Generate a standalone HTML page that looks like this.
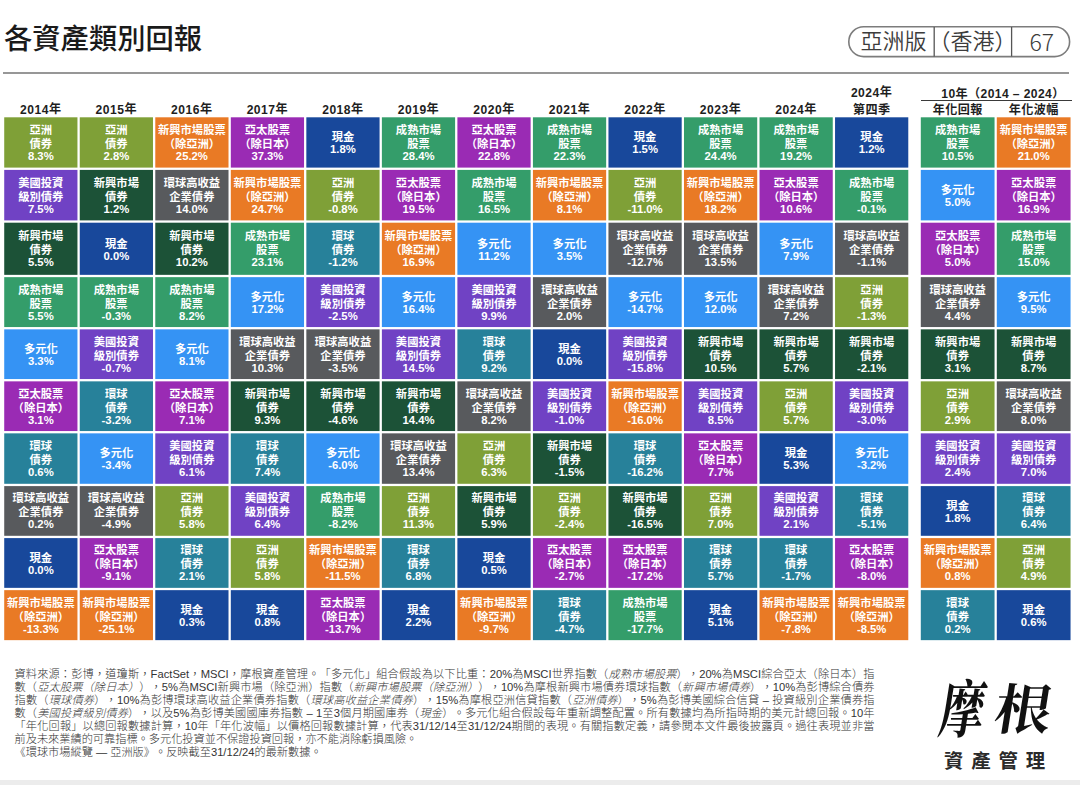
<!DOCTYPE html>
<html lang="zh-Hant">
<head>
<meta charset="utf-8">
<title>各資產類別回報</title>
<style>
html,body{margin:0;padding:0;background:#fff;}
body{text-spacing-trim:space-all;width:1080px;height:785px;position:relative;overflow:hidden;font-family:"Liberation Sans","Noto Sans CJK TC","Noto Sans CJK SC",sans-serif;color:#222;}
.title{position:absolute;left:4px;top:19px;font-size:28.3px;line-height:40px;font-weight:500;color:#1a1a1a;white-space:nowrap;letter-spacing:0px;}
.rule{position:absolute;left:3px;top:72px;width:1065.5px;height:2px;background:#979797;}
.badge{position:absolute;left:848.4px;top:26px;width:222.4px;height:31.4px;}
.badge svg{position:absolute;left:0;top:0;}
.badge span{position:absolute;top:1px;line-height:29px;font-size:22px;font-weight:350;color:#3c3c3c;white-space:nowrap;}
.h{position:absolute;text-align:center;font-weight:700;font-size:12.1px;line-height:14px;color:#1e1e1e;white-space:nowrap;letter-spacing:0.4px;}
.h.y{letter-spacing:0.5px;}
.h.y span{position:relative;top:-1px;}
.badge span.n{font-family:"Noto Sans CJK TC","Liberation Sans",sans-serif;font-weight:300;font-size:23px;}
.bg{position:absolute;left:0;top:0;}
.c{position:absolute;color:#fff;font-weight:700;font-size:11.3px;line-height:13px;text-align:center;white-space:nowrap;}
.c div{height:13px;}
.c .a{height:14px;}
.c .v{margin-top:-1px;}
.ul{position:absolute;left:920.5px;top:99.6px;width:151px;height:1px;background:#3a3a3a;}
.foot{position:absolute;left:14.5px;margin-top:0.6px;font-size:11.2px;line-height:13px;color:#333;white-space:nowrap;font-weight:300;}
.foot.j{width:860px;text-align:justify;text-align-last:justify;text-justify:inter-character;}
.foot i{font-style:italic;}
.logo{position:absolute;left:0;top:0;font-family:"Noto Serif CJK SC","Noto Serif CJK TC",serif;font-weight:700;color:#111;white-space:nowrap;}
.logo span{position:absolute;display:block;line-height:1;transform-origin:50% 50%;}
.logo .m1{left:936px;top:677px;font-size:56px;transform:skewX(-9deg) scale(0.8,1.12);}
.logo .m2{left:997px;top:679px;font-size:54px;transform:skewX(-9deg) scale(1.05,1);}
.logo2{position:absolute;left:944px;top:749.6px;font-size:19.4px;line-height:22px;font-weight:700;color:#2a2a2a;letter-spacing:7.9px;white-space:nowrap;}
.band{position:absolute;left:0;top:779.6px;width:1080px;height:6px;background:#ececec;}
</style>
</head>
<body>
<div class="title">各資產類別回報</div>
<div class="badge"><svg width="223" height="32" viewBox="0 0 223 32"><rect x="0.8" y="0.8" width="220.8" height="29.8" rx="14.9" ry="14.9" fill="none" stroke="#7c7c7c" stroke-width="1.6"/><line x1="86.2" y1="1" x2="86.2" y2="30.4" stroke="#555" stroke-width="1.3"/><line x1="163.6" y1="1" x2="163.6" y2="30.4" stroke="#555" stroke-width="1.3"/></svg><span style="left:12px">亞洲版</span><span style="left:80px">（香港）</span><span class="n" style="left:181px">67</span></div>
<div class="rule"></div>
<div class="h" style="left:927.5px;top:86.5px;width:151px;letter-spacing:0.4px">10年（2014 – 2024）</div>
<div class="ul"></div>
<svg class="bg" width="1080" height="785" viewBox="0 0 1080 785">
<rect x="4.22" y="117.30" width="73.23" height="50.30" fill="#7fa037"/>
<rect x="4.22" y="169.90" width="73.23" height="50.50" fill="#7042c4"/>
<rect x="4.22" y="222.70" width="73.23" height="52.15" fill="#1c5237"/>
<rect x="4.22" y="277.15" width="73.23" height="49.90" fill="#349d6a"/>
<rect x="4.22" y="329.35" width="73.23" height="49.70" fill="#3593f4"/>
<rect x="4.22" y="381.35" width="73.23" height="49.70" fill="#9a2bb4"/>
<rect x="4.22" y="433.35" width="73.23" height="50.45" fill="#27819a"/>
<rect x="4.22" y="486.10" width="73.23" height="49.70" fill="#585a5d"/>
<rect x="4.22" y="538.10" width="73.23" height="49.75" fill="#18489b"/>
<rect x="4.22" y="590.15" width="73.23" height="50.00" fill="#e97a25"/>
<rect x="79.75" y="117.30" width="73.23" height="50.30" fill="#7fa037"/>
<rect x="79.75" y="169.90" width="73.23" height="50.50" fill="#1c5237"/>
<rect x="79.75" y="222.70" width="73.23" height="52.15" fill="#18489b"/>
<rect x="79.75" y="277.15" width="73.23" height="49.90" fill="#349d6a"/>
<rect x="79.75" y="329.35" width="73.23" height="49.70" fill="#7042c4"/>
<rect x="79.75" y="381.35" width="73.23" height="49.70" fill="#27819a"/>
<rect x="79.75" y="433.35" width="73.23" height="50.45" fill="#3593f4"/>
<rect x="79.75" y="486.10" width="73.23" height="49.70" fill="#585a5d"/>
<rect x="79.75" y="538.10" width="73.23" height="49.75" fill="#9a2bb4"/>
<rect x="79.75" y="590.15" width="73.23" height="50.00" fill="#e97a25"/>
<rect x="155.28" y="117.30" width="73.23" height="50.30" fill="#e97a25"/>
<rect x="155.28" y="169.90" width="73.23" height="50.50" fill="#585a5d"/>
<rect x="155.28" y="222.70" width="73.23" height="52.15" fill="#1c5237"/>
<rect x="155.28" y="277.15" width="73.23" height="49.90" fill="#349d6a"/>
<rect x="155.28" y="329.35" width="73.23" height="49.70" fill="#3593f4"/>
<rect x="155.28" y="381.35" width="73.23" height="49.70" fill="#9a2bb4"/>
<rect x="155.28" y="433.35" width="73.23" height="50.45" fill="#7042c4"/>
<rect x="155.28" y="486.10" width="73.23" height="49.70" fill="#7fa037"/>
<rect x="155.28" y="538.10" width="73.23" height="49.75" fill="#27819a"/>
<rect x="155.28" y="590.15" width="73.23" height="50.00" fill="#18489b"/>
<rect x="230.81" y="117.30" width="73.23" height="50.30" fill="#9a2bb4"/>
<rect x="230.81" y="169.90" width="73.23" height="50.50" fill="#e97a25"/>
<rect x="230.81" y="222.70" width="73.23" height="52.15" fill="#349d6a"/>
<rect x="230.81" y="277.15" width="73.23" height="49.90" fill="#3593f4"/>
<rect x="230.81" y="329.35" width="73.23" height="49.70" fill="#585a5d"/>
<rect x="230.81" y="381.35" width="73.23" height="49.70" fill="#1c5237"/>
<rect x="230.81" y="433.35" width="73.23" height="50.45" fill="#27819a"/>
<rect x="230.81" y="486.10" width="73.23" height="49.70" fill="#7042c4"/>
<rect x="230.81" y="538.10" width="73.23" height="49.75" fill="#7fa037"/>
<rect x="230.81" y="590.15" width="73.23" height="50.00" fill="#18489b"/>
<rect x="306.34" y="117.30" width="73.23" height="50.30" fill="#18489b"/>
<rect x="306.34" y="169.90" width="73.23" height="50.50" fill="#7fa037"/>
<rect x="306.34" y="222.70" width="73.23" height="52.15" fill="#27819a"/>
<rect x="306.34" y="277.15" width="73.23" height="49.90" fill="#7042c4"/>
<rect x="306.34" y="329.35" width="73.23" height="49.70" fill="#585a5d"/>
<rect x="306.34" y="381.35" width="73.23" height="49.70" fill="#1c5237"/>
<rect x="306.34" y="433.35" width="73.23" height="50.45" fill="#3593f4"/>
<rect x="306.34" y="486.10" width="73.23" height="49.70" fill="#349d6a"/>
<rect x="306.34" y="538.10" width="73.23" height="49.75" fill="#e97a25"/>
<rect x="306.34" y="590.15" width="73.23" height="50.00" fill="#9a2bb4"/>
<rect x="381.87" y="117.30" width="73.23" height="50.30" fill="#349d6a"/>
<rect x="381.87" y="169.90" width="73.23" height="50.50" fill="#9a2bb4"/>
<rect x="381.87" y="222.70" width="73.23" height="52.15" fill="#e97a25"/>
<rect x="381.87" y="277.15" width="73.23" height="49.90" fill="#3593f4"/>
<rect x="381.87" y="329.35" width="73.23" height="49.70" fill="#7042c4"/>
<rect x="381.87" y="381.35" width="73.23" height="49.70" fill="#1c5237"/>
<rect x="381.87" y="433.35" width="73.23" height="50.45" fill="#585a5d"/>
<rect x="381.87" y="486.10" width="73.23" height="49.70" fill="#7fa037"/>
<rect x="381.87" y="538.10" width="73.23" height="49.75" fill="#27819a"/>
<rect x="381.87" y="590.15" width="73.23" height="50.00" fill="#18489b"/>
<rect x="457.40" y="117.30" width="73.23" height="50.30" fill="#9a2bb4"/>
<rect x="457.40" y="169.90" width="73.23" height="50.50" fill="#349d6a"/>
<rect x="457.40" y="222.70" width="73.23" height="52.15" fill="#3593f4"/>
<rect x="457.40" y="277.15" width="73.23" height="49.90" fill="#7042c4"/>
<rect x="457.40" y="329.35" width="73.23" height="49.70" fill="#27819a"/>
<rect x="457.40" y="381.35" width="73.23" height="49.70" fill="#585a5d"/>
<rect x="457.40" y="433.35" width="73.23" height="50.45" fill="#7fa037"/>
<rect x="457.40" y="486.10" width="73.23" height="49.70" fill="#1c5237"/>
<rect x="457.40" y="538.10" width="73.23" height="49.75" fill="#18489b"/>
<rect x="457.40" y="590.15" width="73.23" height="50.00" fill="#e97a25"/>
<rect x="532.93" y="117.30" width="73.23" height="50.30" fill="#349d6a"/>
<rect x="532.93" y="169.90" width="73.23" height="50.50" fill="#e97a25"/>
<rect x="532.93" y="222.70" width="73.23" height="52.15" fill="#3593f4"/>
<rect x="532.93" y="277.15" width="73.23" height="49.90" fill="#585a5d"/>
<rect x="532.93" y="329.35" width="73.23" height="49.70" fill="#18489b"/>
<rect x="532.93" y="381.35" width="73.23" height="49.70" fill="#7042c4"/>
<rect x="532.93" y="433.35" width="73.23" height="50.45" fill="#1c5237"/>
<rect x="532.93" y="486.10" width="73.23" height="49.70" fill="#7fa037"/>
<rect x="532.93" y="538.10" width="73.23" height="49.75" fill="#9a2bb4"/>
<rect x="532.93" y="590.15" width="73.23" height="50.00" fill="#27819a"/>
<rect x="608.46" y="117.30" width="73.23" height="50.30" fill="#18489b"/>
<rect x="608.46" y="169.90" width="73.23" height="50.50" fill="#7fa037"/>
<rect x="608.46" y="222.70" width="73.23" height="52.15" fill="#585a5d"/>
<rect x="608.46" y="277.15" width="73.23" height="49.90" fill="#3593f4"/>
<rect x="608.46" y="329.35" width="73.23" height="49.70" fill="#7042c4"/>
<rect x="608.46" y="381.35" width="73.23" height="49.70" fill="#e97a25"/>
<rect x="608.46" y="433.35" width="73.23" height="50.45" fill="#27819a"/>
<rect x="608.46" y="486.10" width="73.23" height="49.70" fill="#1c5237"/>
<rect x="608.46" y="538.10" width="73.23" height="49.75" fill="#9a2bb4"/>
<rect x="608.46" y="590.15" width="73.23" height="50.00" fill="#349d6a"/>
<rect x="683.99" y="117.30" width="73.23" height="50.30" fill="#349d6a"/>
<rect x="683.99" y="169.90" width="73.23" height="50.50" fill="#e97a25"/>
<rect x="683.99" y="222.70" width="73.23" height="52.15" fill="#585a5d"/>
<rect x="683.99" y="277.15" width="73.23" height="49.90" fill="#3593f4"/>
<rect x="683.99" y="329.35" width="73.23" height="49.70" fill="#1c5237"/>
<rect x="683.99" y="381.35" width="73.23" height="49.70" fill="#7042c4"/>
<rect x="683.99" y="433.35" width="73.23" height="50.45" fill="#9a2bb4"/>
<rect x="683.99" y="486.10" width="73.23" height="49.70" fill="#7fa037"/>
<rect x="683.99" y="538.10" width="73.23" height="49.75" fill="#27819a"/>
<rect x="683.99" y="590.15" width="73.23" height="50.00" fill="#18489b"/>
<rect x="759.52" y="117.30" width="73.23" height="50.30" fill="#349d6a"/>
<rect x="759.52" y="169.90" width="73.23" height="50.50" fill="#9a2bb4"/>
<rect x="759.52" y="222.70" width="73.23" height="52.15" fill="#3593f4"/>
<rect x="759.52" y="277.15" width="73.23" height="49.90" fill="#585a5d"/>
<rect x="759.52" y="329.35" width="73.23" height="49.70" fill="#1c5237"/>
<rect x="759.52" y="381.35" width="73.23" height="49.70" fill="#7fa037"/>
<rect x="759.52" y="433.35" width="73.23" height="50.45" fill="#18489b"/>
<rect x="759.52" y="486.10" width="73.23" height="49.70" fill="#7042c4"/>
<rect x="759.52" y="538.10" width="73.23" height="49.75" fill="#27819a"/>
<rect x="759.52" y="590.15" width="73.23" height="50.00" fill="#e97a25"/>
<rect x="835.05" y="117.30" width="73.23" height="50.30" fill="#18489b"/>
<rect x="835.05" y="169.90" width="73.23" height="50.50" fill="#349d6a"/>
<rect x="835.05" y="222.70" width="73.23" height="52.15" fill="#585a5d"/>
<rect x="835.05" y="277.15" width="73.23" height="49.90" fill="#7fa037"/>
<rect x="835.05" y="329.35" width="73.23" height="49.70" fill="#1c5237"/>
<rect x="835.05" y="381.35" width="73.23" height="49.70" fill="#7042c4"/>
<rect x="835.05" y="433.35" width="73.23" height="50.45" fill="#3593f4"/>
<rect x="835.05" y="486.10" width="73.23" height="49.70" fill="#27819a"/>
<rect x="835.05" y="538.10" width="73.23" height="49.75" fill="#9a2bb4"/>
<rect x="835.05" y="590.15" width="73.23" height="50.00" fill="#e97a25"/>
<rect x="920.80" y="117.30" width="73.75" height="50.30" fill="#349d6a"/>
<rect x="920.80" y="169.90" width="73.75" height="50.50" fill="#3593f4"/>
<rect x="920.80" y="222.70" width="73.75" height="52.15" fill="#9a2bb4"/>
<rect x="920.80" y="277.15" width="73.75" height="49.90" fill="#585a5d"/>
<rect x="920.80" y="329.35" width="73.75" height="49.70" fill="#1c5237"/>
<rect x="920.80" y="381.35" width="73.75" height="49.70" fill="#7fa037"/>
<rect x="920.80" y="433.35" width="73.75" height="50.45" fill="#7042c4"/>
<rect x="920.80" y="486.10" width="73.75" height="49.70" fill="#18489b"/>
<rect x="920.80" y="538.10" width="73.75" height="49.75" fill="#e97a25"/>
<rect x="920.80" y="590.15" width="73.75" height="50.00" fill="#27819a"/>
<rect x="996.80" y="117.30" width="73.75" height="50.30" fill="#e97a25"/>
<rect x="996.80" y="169.90" width="73.75" height="50.50" fill="#9a2bb4"/>
<rect x="996.80" y="222.70" width="73.75" height="52.15" fill="#349d6a"/>
<rect x="996.80" y="277.15" width="73.75" height="49.90" fill="#3593f4"/>
<rect x="996.80" y="329.35" width="73.75" height="49.70" fill="#1c5237"/>
<rect x="996.80" y="381.35" width="73.75" height="49.70" fill="#585a5d"/>
<rect x="996.80" y="433.35" width="73.75" height="50.45" fill="#7042c4"/>
<rect x="996.80" y="486.10" width="73.75" height="49.70" fill="#27819a"/>
<rect x="996.80" y="538.10" width="73.75" height="49.75" fill="#7fa037"/>
<rect x="996.80" y="590.15" width="73.75" height="50.00" fill="#18489b"/>
</svg>
<div class="h y" style="left:4.22px;top:102.8px;width:73.23px">2014<span>年</span></div>
<div class="c" style="left:4.22px;top:124px;width:73.23px"><div class="k a">亞洲</div><div class="k">債券</div><div class="v">8.3%</div></div>
<div class="c" style="left:4.22px;top:177px;width:73.23px"><div class="k a">美國投資</div><div class="k">級別債券</div><div class="v">7.5%</div></div>
<div class="c" style="left:4.22px;top:230px;width:73.23px"><div class="k a">新興市場</div><div class="k">債券</div><div class="v">5.5%</div></div>
<div class="c" style="left:4.22px;top:284px;width:73.23px"><div class="k a">成熟市場</div><div class="k">股票</div><div class="v">5.5%</div></div>
<div class="c" style="left:4.22px;top:343px;width:73.23px"><div class="k">多元化</div><div class="v">3.3%</div></div>
<div class="c" style="left:4.22px;top:388px;width:73.23px"><div class="k a">亞太股票</div><div class="k">（除日本）</div><div class="v">3.1%</div></div>
<div class="c" style="left:4.22px;top:440px;width:73.23px"><div class="k a">環球</div><div class="k">債券</div><div class="v">0.6%</div></div>
<div class="c" style="left:4.22px;top:492px;width:73.23px"><div class="k a">環球高收益</div><div class="k">企業債券</div><div class="v">0.2%</div></div>
<div class="c" style="left:4.22px;top:552px;width:73.23px"><div class="k">現金</div><div class="v">0.0%</div></div>
<div class="c" style="left:4.22px;top:597px;width:73.23px"><div class="k a">新興市場股票</div><div class="k">（除亞洲）</div><div class="v">-13.3%</div></div>
<div class="h y" style="left:79.75px;top:102.8px;width:73.23px">2015<span>年</span></div>
<div class="c" style="left:79.75px;top:124px;width:73.23px"><div class="k a">亞洲</div><div class="k">債券</div><div class="v">2.8%</div></div>
<div class="c" style="left:79.75px;top:177px;width:73.23px"><div class="k a">新興市場</div><div class="k">債券</div><div class="v">1.2%</div></div>
<div class="c" style="left:79.75px;top:238px;width:73.23px"><div class="k">現金</div><div class="v">0.0%</div></div>
<div class="c" style="left:79.75px;top:284px;width:73.23px"><div class="k a">成熟市場</div><div class="k">股票</div><div class="v">-0.3%</div></div>
<div class="c" style="left:79.75px;top:336px;width:73.23px"><div class="k a">美國投資</div><div class="k">級別債券</div><div class="v">-0.7%</div></div>
<div class="c" style="left:79.75px;top:388px;width:73.23px"><div class="k a">環球</div><div class="k">債券</div><div class="v">-3.2%</div></div>
<div class="c" style="left:79.75px;top:447px;width:73.23px"><div class="k">多元化</div><div class="v">-3.4%</div></div>
<div class="c" style="left:79.75px;top:492px;width:73.23px"><div class="k a">環球高收益</div><div class="k">企業債券</div><div class="v">-4.9%</div></div>
<div class="c" style="left:79.75px;top:544px;width:73.23px"><div class="k a">亞太股票</div><div class="k">（除日本）</div><div class="v">-9.1%</div></div>
<div class="c" style="left:79.75px;top:597px;width:73.23px"><div class="k a">新興市場股票</div><div class="k">（除亞洲）</div><div class="v">-25.1%</div></div>
<div class="h y" style="left:155.28px;top:102.8px;width:73.23px">2016<span>年</span></div>
<div class="c" style="left:155.28px;top:124px;width:73.23px"><div class="k a">新興市場股票</div><div class="k">（除亞洲）</div><div class="v">25.2%</div></div>
<div class="c" style="left:155.28px;top:177px;width:73.23px"><div class="k a">環球高收益</div><div class="k">企業債券</div><div class="v">14.0%</div></div>
<div class="c" style="left:155.28px;top:230px;width:73.23px"><div class="k a">新興市場</div><div class="k">債券</div><div class="v">10.2%</div></div>
<div class="c" style="left:155.28px;top:284px;width:73.23px"><div class="k a">成熟市場</div><div class="k">股票</div><div class="v">8.2%</div></div>
<div class="c" style="left:155.28px;top:343px;width:73.23px"><div class="k">多元化</div><div class="v">8.1%</div></div>
<div class="c" style="left:155.28px;top:388px;width:73.23px"><div class="k a">亞太股票</div><div class="k">（除日本）</div><div class="v">7.1%</div></div>
<div class="c" style="left:155.28px;top:440px;width:73.23px"><div class="k a">美國投資</div><div class="k">級別債券</div><div class="v">6.1%</div></div>
<div class="c" style="left:155.28px;top:492px;width:73.23px"><div class="k a">亞洲</div><div class="k">債券</div><div class="v">5.8%</div></div>
<div class="c" style="left:155.28px;top:544px;width:73.23px"><div class="k a">環球</div><div class="k">債券</div><div class="v">2.1%</div></div>
<div class="c" style="left:155.28px;top:604px;width:73.23px"><div class="k">現金</div><div class="v">0.3%</div></div>
<div class="h y" style="left:230.81px;top:102.8px;width:73.23px">2017<span>年</span></div>
<div class="c" style="left:230.81px;top:124px;width:73.23px"><div class="k a">亞太股票</div><div class="k">（除日本）</div><div class="v">37.3%</div></div>
<div class="c" style="left:230.81px;top:177px;width:73.23px"><div class="k a">新興市場股票</div><div class="k">（除亞洲）</div><div class="v">24.7%</div></div>
<div class="c" style="left:230.81px;top:230px;width:73.23px"><div class="k a">成熟市場</div><div class="k">股票</div><div class="v">23.1%</div></div>
<div class="c" style="left:230.81px;top:291px;width:73.23px"><div class="k">多元化</div><div class="v">17.2%</div></div>
<div class="c" style="left:230.81px;top:336px;width:73.23px"><div class="k a">環球高收益</div><div class="k">企業債券</div><div class="v">10.3%</div></div>
<div class="c" style="left:230.81px;top:388px;width:73.23px"><div class="k a">新興市場</div><div class="k">債券</div><div class="v">9.3%</div></div>
<div class="c" style="left:230.81px;top:440px;width:73.23px"><div class="k a">環球</div><div class="k">債券</div><div class="v">7.4%</div></div>
<div class="c" style="left:230.81px;top:492px;width:73.23px"><div class="k a">美國投資</div><div class="k">級別債券</div><div class="v">6.4%</div></div>
<div class="c" style="left:230.81px;top:544px;width:73.23px"><div class="k a">亞洲</div><div class="k">債券</div><div class="v">5.8%</div></div>
<div class="c" style="left:230.81px;top:604px;width:73.23px"><div class="k">現金</div><div class="v">0.8%</div></div>
<div class="h y" style="left:306.34px;top:102.8px;width:73.23px">2018<span>年</span></div>
<div class="c" style="left:306.34px;top:131px;width:73.23px"><div class="k">現金</div><div class="v">1.8%</div></div>
<div class="c" style="left:306.34px;top:177px;width:73.23px"><div class="k a">亞洲</div><div class="k">債券</div><div class="v">-0.8%</div></div>
<div class="c" style="left:306.34px;top:230px;width:73.23px"><div class="k a">環球</div><div class="k">債券</div><div class="v">-1.2%</div></div>
<div class="c" style="left:306.34px;top:284px;width:73.23px"><div class="k a">美國投資</div><div class="k">級別債券</div><div class="v">-2.5%</div></div>
<div class="c" style="left:306.34px;top:336px;width:73.23px"><div class="k a">環球高收益</div><div class="k">企業債券</div><div class="v">-3.5%</div></div>
<div class="c" style="left:306.34px;top:388px;width:73.23px"><div class="k a">新興市場</div><div class="k">債券</div><div class="v">-4.6%</div></div>
<div class="c" style="left:306.34px;top:447px;width:73.23px"><div class="k">多元化</div><div class="v">-6.0%</div></div>
<div class="c" style="left:306.34px;top:492px;width:73.23px"><div class="k a">成熟市場</div><div class="k">股票</div><div class="v">-8.2%</div></div>
<div class="c" style="left:306.34px;top:544px;width:73.23px"><div class="k a">新興市場股票</div><div class="k">（除亞洲）</div><div class="v">-11.5%</div></div>
<div class="c" style="left:306.34px;top:597px;width:73.23px"><div class="k a">亞太股票</div><div class="k">（除日本）</div><div class="v">-13.7%</div></div>
<div class="h y" style="left:381.87px;top:102.8px;width:73.23px">2019<span>年</span></div>
<div class="c" style="left:381.87px;top:124px;width:73.23px"><div class="k a">成熟市場</div><div class="k">股票</div><div class="v">28.4%</div></div>
<div class="c" style="left:381.87px;top:177px;width:73.23px"><div class="k a">亞太股票</div><div class="k">（除日本）</div><div class="v">19.5%</div></div>
<div class="c" style="left:381.87px;top:230px;width:73.23px"><div class="k a">新興市場股票</div><div class="k">（除亞洲）</div><div class="v">16.9%</div></div>
<div class="c" style="left:381.87px;top:291px;width:73.23px"><div class="k">多元化</div><div class="v">16.4%</div></div>
<div class="c" style="left:381.87px;top:336px;width:73.23px"><div class="k a">美國投資</div><div class="k">級別債券</div><div class="v">14.5%</div></div>
<div class="c" style="left:381.87px;top:388px;width:73.23px"><div class="k a">新興市場</div><div class="k">債券</div><div class="v">14.4%</div></div>
<div class="c" style="left:381.87px;top:440px;width:73.23px"><div class="k a">環球高收益</div><div class="k">企業債券</div><div class="v">13.4%</div></div>
<div class="c" style="left:381.87px;top:492px;width:73.23px"><div class="k a">亞洲</div><div class="k">債券</div><div class="v">11.3%</div></div>
<div class="c" style="left:381.87px;top:544px;width:73.23px"><div class="k a">環球</div><div class="k">債券</div><div class="v">6.8%</div></div>
<div class="c" style="left:381.87px;top:604px;width:73.23px"><div class="k">現金</div><div class="v">2.2%</div></div>
<div class="h y" style="left:457.40px;top:102.8px;width:73.23px">2020<span>年</span></div>
<div class="c" style="left:457.40px;top:124px;width:73.23px"><div class="k a">亞太股票</div><div class="k">（除日本）</div><div class="v">22.8%</div></div>
<div class="c" style="left:457.40px;top:177px;width:73.23px"><div class="k a">成熟市場</div><div class="k">股票</div><div class="v">16.5%</div></div>
<div class="c" style="left:457.40px;top:238px;width:73.23px"><div class="k">多元化</div><div class="v">11.2%</div></div>
<div class="c" style="left:457.40px;top:284px;width:73.23px"><div class="k a">美國投資</div><div class="k">級別債券</div><div class="v">9.9%</div></div>
<div class="c" style="left:457.40px;top:336px;width:73.23px"><div class="k a">環球</div><div class="k">債券</div><div class="v">9.2%</div></div>
<div class="c" style="left:457.40px;top:388px;width:73.23px"><div class="k a">環球高收益</div><div class="k">企業債券</div><div class="v">8.2%</div></div>
<div class="c" style="left:457.40px;top:440px;width:73.23px"><div class="k a">亞洲</div><div class="k">債券</div><div class="v">6.3%</div></div>
<div class="c" style="left:457.40px;top:492px;width:73.23px"><div class="k a">新興市場</div><div class="k">債券</div><div class="v">5.9%</div></div>
<div class="c" style="left:457.40px;top:552px;width:73.23px"><div class="k">現金</div><div class="v">0.5%</div></div>
<div class="c" style="left:457.40px;top:597px;width:73.23px"><div class="k a">新興市場股票</div><div class="k">（除亞洲）</div><div class="v">-9.7%</div></div>
<div class="h y" style="left:532.93px;top:102.8px;width:73.23px">2021<span>年</span></div>
<div class="c" style="left:532.93px;top:124px;width:73.23px"><div class="k a">成熟市場</div><div class="k">股票</div><div class="v">22.3%</div></div>
<div class="c" style="left:532.93px;top:177px;width:73.23px"><div class="k a">新興市場股票</div><div class="k">（除亞洲）</div><div class="v">8.1%</div></div>
<div class="c" style="left:532.93px;top:238px;width:73.23px"><div class="k">多元化</div><div class="v">3.5%</div></div>
<div class="c" style="left:532.93px;top:284px;width:73.23px"><div class="k a">環球高收益</div><div class="k">企業債券</div><div class="v">2.0%</div></div>
<div class="c" style="left:532.93px;top:343px;width:73.23px"><div class="k">現金</div><div class="v">0.0%</div></div>
<div class="c" style="left:532.93px;top:388px;width:73.23px"><div class="k a">美國投資</div><div class="k">級別債券</div><div class="v">-1.0%</div></div>
<div class="c" style="left:532.93px;top:440px;width:73.23px"><div class="k a">新興市場</div><div class="k">債券</div><div class="v">-1.5%</div></div>
<div class="c" style="left:532.93px;top:492px;width:73.23px"><div class="k a">亞洲</div><div class="k">債券</div><div class="v">-2.4%</div></div>
<div class="c" style="left:532.93px;top:544px;width:73.23px"><div class="k a">亞太股票</div><div class="k">（除日本）</div><div class="v">-2.7%</div></div>
<div class="c" style="left:532.93px;top:597px;width:73.23px"><div class="k a">環球</div><div class="k">債券</div><div class="v">-4.7%</div></div>
<div class="h y" style="left:608.46px;top:102.8px;width:73.23px">2022<span>年</span></div>
<div class="c" style="left:608.46px;top:131px;width:73.23px"><div class="k">現金</div><div class="v">1.5%</div></div>
<div class="c" style="left:608.46px;top:177px;width:73.23px"><div class="k a">亞洲</div><div class="k">債券</div><div class="v">-11.0%</div></div>
<div class="c" style="left:608.46px;top:230px;width:73.23px"><div class="k a">環球高收益</div><div class="k">企業債券</div><div class="v">-12.7%</div></div>
<div class="c" style="left:608.46px;top:291px;width:73.23px"><div class="k">多元化</div><div class="v">-14.7%</div></div>
<div class="c" style="left:608.46px;top:336px;width:73.23px"><div class="k a">美國投資</div><div class="k">級別債券</div><div class="v">-15.8%</div></div>
<div class="c" style="left:608.46px;top:388px;width:73.23px"><div class="k a">新興市場股票</div><div class="k">（除亞洲）</div><div class="v">-16.0%</div></div>
<div class="c" style="left:608.46px;top:440px;width:73.23px"><div class="k a">環球</div><div class="k">債券</div><div class="v">-16.2%</div></div>
<div class="c" style="left:608.46px;top:492px;width:73.23px"><div class="k a">新興市場</div><div class="k">債券</div><div class="v">-16.5%</div></div>
<div class="c" style="left:608.46px;top:544px;width:73.23px"><div class="k a">亞太股票</div><div class="k">（除日本）</div><div class="v">-17.2%</div></div>
<div class="c" style="left:608.46px;top:597px;width:73.23px"><div class="k a">成熟市場</div><div class="k">股票</div><div class="v">-17.7%</div></div>
<div class="h y" style="left:683.99px;top:102.8px;width:73.23px">2023<span>年</span></div>
<div class="c" style="left:683.99px;top:124px;width:73.23px"><div class="k a">成熟市場</div><div class="k">股票</div><div class="v">24.4%</div></div>
<div class="c" style="left:683.99px;top:177px;width:73.23px"><div class="k a">新興市場股票</div><div class="k">（除亞洲）</div><div class="v">18.2%</div></div>
<div class="c" style="left:683.99px;top:230px;width:73.23px"><div class="k a">環球高收益</div><div class="k">企業債券</div><div class="v">13.5%</div></div>
<div class="c" style="left:683.99px;top:291px;width:73.23px"><div class="k">多元化</div><div class="v">12.0%</div></div>
<div class="c" style="left:683.99px;top:336px;width:73.23px"><div class="k a">新興市場</div><div class="k">債券</div><div class="v">10.5%</div></div>
<div class="c" style="left:683.99px;top:388px;width:73.23px"><div class="k a">美國投資</div><div class="k">級別債券</div><div class="v">8.5%</div></div>
<div class="c" style="left:683.99px;top:440px;width:73.23px"><div class="k a">亞太股票</div><div class="k">（除日本）</div><div class="v">7.7%</div></div>
<div class="c" style="left:683.99px;top:492px;width:73.23px"><div class="k a">亞洲</div><div class="k">債券</div><div class="v">7.0%</div></div>
<div class="c" style="left:683.99px;top:544px;width:73.23px"><div class="k a">環球</div><div class="k">債券</div><div class="v">5.7%</div></div>
<div class="c" style="left:683.99px;top:604px;width:73.23px"><div class="k">現金</div><div class="v">5.1%</div></div>
<div class="h y" style="left:759.52px;top:102.8px;width:73.23px">2024<span>年</span></div>
<div class="c" style="left:759.52px;top:124px;width:73.23px"><div class="k a">成熟市場</div><div class="k">股票</div><div class="v">19.2%</div></div>
<div class="c" style="left:759.52px;top:177px;width:73.23px"><div class="k a">亞太股票</div><div class="k">（除日本）</div><div class="v">10.6%</div></div>
<div class="c" style="left:759.52px;top:238px;width:73.23px"><div class="k">多元化</div><div class="v">7.9%</div></div>
<div class="c" style="left:759.52px;top:284px;width:73.23px"><div class="k a">環球高收益</div><div class="k">企業債券</div><div class="v">7.2%</div></div>
<div class="c" style="left:759.52px;top:336px;width:73.23px"><div class="k a">新興市場</div><div class="k">債券</div><div class="v">5.7%</div></div>
<div class="c" style="left:759.52px;top:388px;width:73.23px"><div class="k a">亞洲</div><div class="k">債券</div><div class="v">5.7%</div></div>
<div class="c" style="left:759.52px;top:447px;width:73.23px"><div class="k">現金</div><div class="v">5.3%</div></div>
<div class="c" style="left:759.52px;top:492px;width:73.23px"><div class="k a">美國投資</div><div class="k">級別債券</div><div class="v">2.1%</div></div>
<div class="c" style="left:759.52px;top:544px;width:73.23px"><div class="k a">環球</div><div class="k">債券</div><div class="v">-1.7%</div></div>
<div class="c" style="left:759.52px;top:597px;width:73.23px"><div class="k a">新興市場股票</div><div class="k">（除亞洲）</div><div class="v">-7.8%</div></div>
<div class="h y" style="left:835.05px;top:86.4px;width:73.23px">2024<span>年</span></div>
<div class="h" style="left:835.05px;top:102.8px;width:73.23px">第四季</div>
<div class="c" style="left:835.05px;top:131px;width:73.23px"><div class="k">現金</div><div class="v">1.2%</div></div>
<div class="c" style="left:835.05px;top:177px;width:73.23px"><div class="k a">成熟市場</div><div class="k">股票</div><div class="v">-0.1%</div></div>
<div class="c" style="left:835.05px;top:230px;width:73.23px"><div class="k a">環球高收益</div><div class="k">企業債券</div><div class="v">-1.1%</div></div>
<div class="c" style="left:835.05px;top:284px;width:73.23px"><div class="k a">亞洲</div><div class="k">債券</div><div class="v">-1.3%</div></div>
<div class="c" style="left:835.05px;top:336px;width:73.23px"><div class="k a">新興市場</div><div class="k">債券</div><div class="v">-2.1%</div></div>
<div class="c" style="left:835.05px;top:388px;width:73.23px"><div class="k a">美國投資</div><div class="k">級別債券</div><div class="v">-3.0%</div></div>
<div class="c" style="left:835.05px;top:447px;width:73.23px"><div class="k">多元化</div><div class="v">-3.2%</div></div>
<div class="c" style="left:835.05px;top:492px;width:73.23px"><div class="k a">環球</div><div class="k">債券</div><div class="v">-5.1%</div></div>
<div class="c" style="left:835.05px;top:544px;width:73.23px"><div class="k a">亞太股票</div><div class="k">（除日本）</div><div class="v">-8.0%</div></div>
<div class="c" style="left:835.05px;top:597px;width:73.23px"><div class="k a">新興市場股票</div><div class="k">（除亞洲）</div><div class="v">-8.5%</div></div>
<div class="h" style="left:920.80px;top:102.8px;width:73.75px">年化回報</div>
<div class="c" style="left:920.80px;top:124px;width:73.75px"><div class="k a">成熟市場</div><div class="k">股票</div><div class="v">10.5%</div></div>
<div class="c" style="left:920.80px;top:184px;width:73.75px"><div class="k">多元化</div><div class="v">5.0%</div></div>
<div class="c" style="left:920.80px;top:230px;width:73.75px"><div class="k a">亞太股票</div><div class="k">（除日本）</div><div class="v">5.0%</div></div>
<div class="c" style="left:920.80px;top:284px;width:73.75px"><div class="k a">環球高收益</div><div class="k">企業債券</div><div class="v">4.4%</div></div>
<div class="c" style="left:920.80px;top:336px;width:73.75px"><div class="k a">新興市場</div><div class="k">債券</div><div class="v">3.1%</div></div>
<div class="c" style="left:920.80px;top:388px;width:73.75px"><div class="k a">亞洲</div><div class="k">債券</div><div class="v">2.9%</div></div>
<div class="c" style="left:920.80px;top:440px;width:73.75px"><div class="k a">美國投資</div><div class="k">級別債券</div><div class="v">2.4%</div></div>
<div class="c" style="left:920.80px;top:500px;width:73.75px"><div class="k">現金</div><div class="v">1.8%</div></div>
<div class="c" style="left:920.80px;top:544px;width:73.75px"><div class="k a">新興市場股票</div><div class="k">（除亞洲）</div><div class="v">0.8%</div></div>
<div class="c" style="left:920.80px;top:597px;width:73.75px"><div class="k a">環球</div><div class="k">債券</div><div class="v">0.2%</div></div>
<div class="h" style="left:996.80px;top:102.8px;width:73.75px">年化波幅</div>
<div class="c" style="left:996.80px;top:124px;width:73.75px"><div class="k a">新興市場股票</div><div class="k">（除亞洲）</div><div class="v">21.0%</div></div>
<div class="c" style="left:996.80px;top:177px;width:73.75px"><div class="k a">亞太股票</div><div class="k">（除日本）</div><div class="v">16.9%</div></div>
<div class="c" style="left:996.80px;top:230px;width:73.75px"><div class="k a">成熟市場</div><div class="k">股票</div><div class="v">15.0%</div></div>
<div class="c" style="left:996.80px;top:291px;width:73.75px"><div class="k">多元化</div><div class="v">9.5%</div></div>
<div class="c" style="left:996.80px;top:336px;width:73.75px"><div class="k a">新興市場</div><div class="k">債券</div><div class="v">8.7%</div></div>
<div class="c" style="left:996.80px;top:388px;width:73.75px"><div class="k a">環球高收益</div><div class="k">企業債券</div><div class="v">8.0%</div></div>
<div class="c" style="left:996.80px;top:440px;width:73.75px"><div class="k a">美國投資</div><div class="k">級別債券</div><div class="v">7.0%</div></div>
<div class="c" style="left:996.80px;top:492px;width:73.75px"><div class="k a">環球</div><div class="k">債券</div><div class="v">6.4%</div></div>
<div class="c" style="left:996.80px;top:544px;width:73.75px"><div class="k a">亞洲</div><div class="k">債券</div><div class="v">4.9%</div></div>
<div class="c" style="left:996.80px;top:604px;width:73.75px"><div class="k">現金</div><div class="v">0.6%</div></div>
<div class="foot j" style="top:667px">資料來源：彭博，道瓊斯，FactSet，MSCI，摩根資產管理。「多元化」組合假設為以下比重：20%為MSCI世界指數（<i>成熟市場股票</i>），20%為MSCI綜合亞太（除日本）指</div>
<div class="foot j" style="top:680px">數（<i>亞太股票（除日本）</i>），5%為MSCI新興市場（除亞洲）指數（<i>新興市場股票（除亞洲）</i>），10%為摩根新興市場債券環球指數（<i>新興市場債券</i>），10%為彭博綜合債券</div>
<div class="foot j" style="top:693px">指數（<i>環球債券</i>），10%為彭博環球高收益企業債券指數（<i>環球高收益企業債券</i>），15%為摩根亞洲信貸指數（<i>亞洲債券</i>），5%為彭博美國綜合信貸 – 投資級別企業債券指</div>
<div class="foot j" style="top:706px">數（<i>美國投資級別債券</i>），以及5%為彭博美國國庫券指數 – 1至3個月期國庫券（<i>現金</i>）。多元化組合假設每年重新調整配置。所有數據均為所指時期的美元計總回報。10年</div>
<div class="foot j" style="top:719px">「年化回報」以總回報數據計算，10年「年化波幅」以價格回報數據計算，代表31/12/14至31/12/24期間的表現。有關指數定義，請參閱本文件最後披露頁。過往表現並非當</div>
<div class="foot" style="top:732px">前及未來業績的可靠指標。多元化投資並不保證投資回報，亦不能消除虧損風險。</div>
<div class="foot" style="top:745px">《環球市場縱覽 — 亞洲版》。反映截至31/12/24的最新數據。</div>
<div class="logo"><span class="m1">摩</span><span class="m2">根</span></div>
<div class="logo2">資產管理</div>
<div class="band"></div>
</body>
</html>
